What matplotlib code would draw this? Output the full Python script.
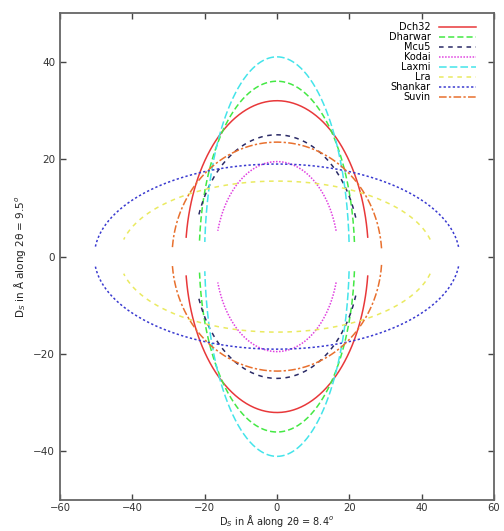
import numpy as np
import matplotlib
matplotlib.use("Agg")
import matplotlib.pyplot as plt

# ellipse fits: half-width a (x), half-height b (y),
# and the |y| where each gnuplot curve stops near the x axis
names = ["Dch32", "Dharwar", "Mcu5", "Kodai", "Laxmi", "Lra", "Shankar", "Suvin"]
semi_x = [25.3, 21.5, 23.0, 17.0, 20.0, 43.5, 50.5, 29.0]
semi_y = [32.0, 36.0, 25.0, 19.5, 41.0, 15.5, 19.0, 23.5]
y_stop = [4.0, 3.0, 8.0, 5.3, 3.0, 3.5, 2.0, 1.7]

colors = ["#e8383a", "#44e844", "#2a2a66", "#e040e0", "#44e4ea", "#eaea60", "#3a3ad0", "#e8702e"]
dashes = [(None, None), (4, 2), (3, 3), (1, 1), (5, 2), (3, 3), (1.5, 1.5), (5, 1.5, 1.5, 1.5)]

xticks = [-60, -40, -20, 0, 20, 40, 60]
yticks = [-40, -20, 0, 20, 40]

fig = plt.figure(figsize=(5.04, 5.31), dpi=100)
ax = fig.add_axes([0.119, 0.058, 0.861, 0.9175])

for name, a, b, ys, c, d in zip(names, semi_x, semi_y, y_stop, colors, dashes):
    t0 = np.arcsin(ys / b)
    t = np.linspace(t0, np.pi - t0, 200)
    x = a * np.cos(t)
    y = b * np.sin(t)
    kw = dict(color=c, lw=1.1)
    line, = ax.plot(x, y, label=name, **kw)
    line2, = ax.plot(x, -y, **kw)
    if d[0] is not None:
        line.set_dashes(d)
        line2.set_dashes(d)

ax.set_xlim(-60, 60)
ax.set_ylim(-50, 50)
ax.set_xticks(xticks)
ax.set_yticks(yticks)
ax.tick_params(direction="in", length=4, width=1, color="#444444",
               top=True, right=True, labelsize=7.5, labelcolor="#333333")
ax.tick_params(axis="x", pad=2, labelsize=7.2)
for s in ax.spines.values():
    s.set_color("#666666")
    s.set_linewidth(1.3)

ax.set_xlabel("D$_S$ in Å along 2θ = 8.4$^o$", fontsize=7, color="#222222")
ax.xaxis.label.set_va("center")
ax.xaxis.set_label_coords(0.5, -0.042)
ax.set_ylabel("D$_S$ in Å along 2θ = 9.5$^o$", fontsize=7.5, labelpad=4, color="#222222")

leg = ax.legend(loc="upper right", bbox_to_anchor=(0.975, 0.995), frameon=False,
                markerfirst=False, fontsize=7, labelspacing=0.0,
                handlelength=3.8, handletextpad=0.9, borderpad=0.2)

fig.savefig("out.png", dpi=100)
